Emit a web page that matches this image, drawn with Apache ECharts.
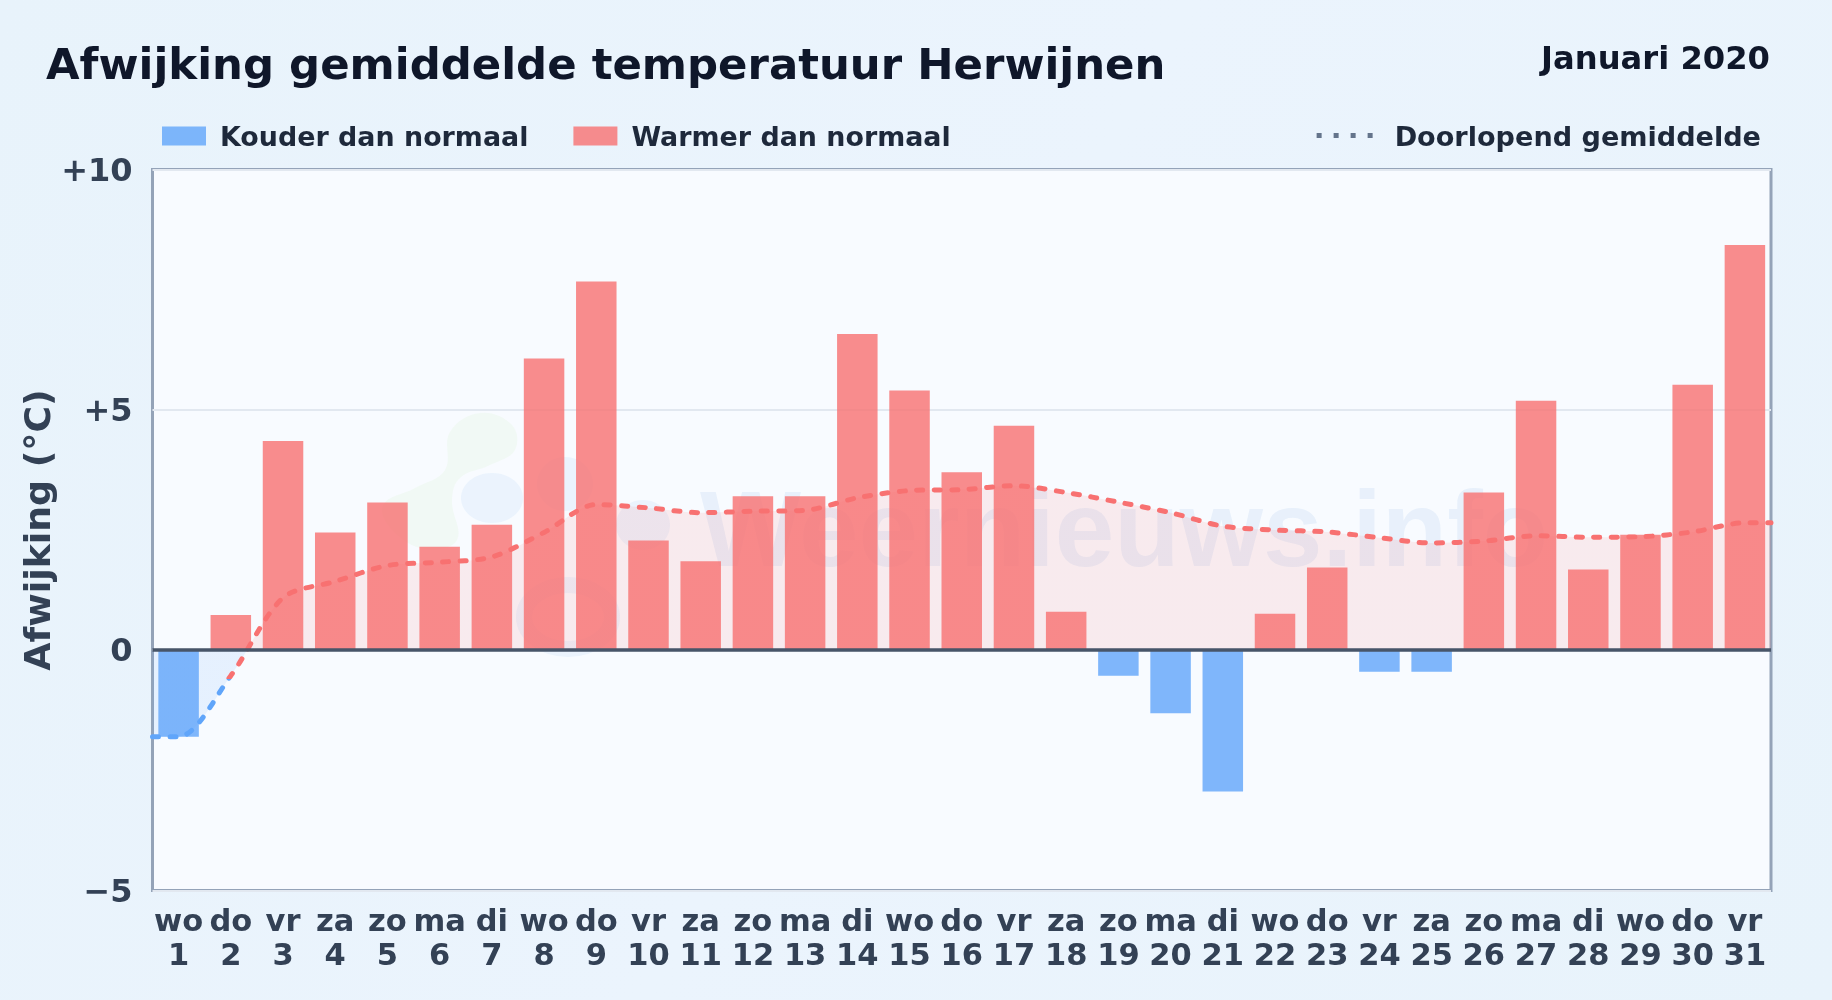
<!DOCTYPE html>
<html>
<head>
<meta charset="utf-8">
<style>html,body{margin:0;padding:0;background:#e9f3fb}#c{width:1832px;height:1000px}</style>
<script src="https://cdn.jsdelivr.net/npm/echarts@6/dist/echarts.min.js"></script>
</head>
<body>
<div id="c"></div>
<script>
const weekdays = ['wo','do','vr','za','zo','ma','di','wo','do','vr','za','zo','ma','di','wo','do','vr','za','zo','ma','di','wo','do','vr','za','zo','ma','di','wo','do','vr'];
const days = [1,2,3,4,5,6,7,8,9,10,11,12,13,14,15,16,17,18,19,20,21,22,23,24,25,26,27,28,29,30,31];
const deviation = [-1.8,0.73,4.35,2.45,3.07,2.15,2.61,6.07,7.67,2.28,1.85,3.2,3.2,6.58,5.4,3.7,4.67,0.8,-0.53,-1.31,-2.94,0.76,1.72,-0.45,-0.45,3.28,5.19,1.68,2.4,5.52,8.43];
const runningMean = [-1.8,-0.53,1.09,1.43,1.76,1.83,1.94,2.45,3.03,2.96,2.86,2.89,2.91,3.17,3.32,3.34,3.42,3.28,3.08,2.86,2.58,2.5,2.46,2.34,2.23,2.27,2.38,2.35,2.36,2.46,2.65];
const yTicks = {'10':'+10','5':'+5','0':'0','-5':'\u22125'};

const FONT = '"DejaVu Sans"';
const COLD = '#60a5fa', WARM = '#f87171';
const cold = deviation.map(v => v < 0 ? v : null);
const warm = deviation.map(v => v >= 0 ? v : null);
const lineData = [[0.5, runningMean[0]]]
  .concat(days.map((d, i) => [d, runningMean[i]]))
  .concat([[31.5, runningMean[runningMean.length - 1]]]);
// area fill changes colour exactly at zero
const maxMean = Math.max(...runningMean), minMean = Math.min(...runningMean);
const zeroStop = maxMean / (maxMean - minMean);

const chart = echarts.init(document.getElementById('c'), null, {renderer:'canvas'});
const blob = (cx, cy, rx, ry, fill) => ({type:'ellipse', z:1, silent:true, shape:{cx, cy, rx, ry}, style:{fill}});
const BLUE_WASH = 'rgba(147,197,240,0.13)';
const legendRich = (size, left) => ({t:{fontFamily:FONT,fontSize:size,fontWeight:'bold',color:'#1e293b',padding:[6,0,0,left]}});
chart.setOption({
  animation:false,
  backgroundColor:{type:'linear',x:0,y:0,x2:1,y2:1,colorStops:[{offset:0,color:'#e8f3fb'},{offset:0.5,color:'#ebf4fd'},{offset:1,color:'#e8f3fb'}]},
  textStyle:{fontFamily:FONT},
  title:[
    {text:'Afwijking gemiddelde temperatuur Herwijnen', left:41, top:41, textStyle:{fontFamily:FONT,fontSize:43.4,fontWeight:'bold',color:'#0f172a'}},
    {text:'Januari 2020', right:57, top:40, textStyle:{fontFamily:FONT,fontSize:32.2,fontWeight:'bold',color:'#0f172a'}}
  ],
  legend:[
    {data:[{name:'Kouder dan normaal',icon:'rect'},{name:'Warmer dan normaal',icon:'rect'}], left:157, top:120.5, itemWidth:44, itemHeight:19, itemGap:45,
      formatter:n=>'{t|'+n+'}', textStyle:{rich:legendRich(26.9,9)}},
    {data:[{name:'Doorlopend gemiddelde', icon:'path://M0 0h5v5H0zM17 0h5v5h-5zM34 0h5v5h-5zM51 0h5v5h-5z', itemStyle:{color:'#64748b'}}],
      right:66, top:120, itemWidth:56, itemHeight:5,
      formatter:n=>'{t|'+n+'}', textStyle:{rich:legendRich(27.1,17)}}
  ],
  grid:{left:152.5, top:169.5, width:1618.5, height:721, show:true, backgroundColor:'#f8fbff', borderColor:'#94a3b8', borderWidth:3},
  xAxis:[
    {type:'category', data:weekdays.map((w,i)=>w+'\n'+days[i]), position:'bottom',
      axisLine:{show:false,onZero:false}, axisTick:{show:false}, splitLine:{show:false},
      axisLabel:{interval:0, margin:16, color:'#334155', fontFamily:FONT, fontSize:30.5, fontWeight:'bold', lineHeight:34}},
    {type:'value', min:0.5, max:31.5, show:false}
  ],
  yAxis:{type:'value', min:-5, max:10, interval:5,
    axisLine:{show:false}, axisTick:{show:false},
    splitLine:{lineStyle:{color:'#e2e8f0',width:2}},
    axisLabel:{margin:20, formatter:v=>'{t|'+yTicks[String(v)]+'}',
      rich:{t:{color:'#334155', fontFamily:FONT, fontSize:32, fontWeight:'bold', padding:[6,0,0,0]}}},
    name:'Afwijking (\u00b0C)', nameLocation:'middle', nameRotate:90, nameGap:94, nameMoveOverlap:false,
    nameTextStyle:{color:'#334155', fontFamily:FONT, fontSize:36.3, fontWeight:'bold'}},
  visualMap:{show:false, type:'piecewise', seriesIndex:2, dimension:1,
    pieces:[{min:-5,max:-0.6,color:COLD},{min:-0.6,max:10,color:WARM}]},
  series:[
    {name:'Kouder dan normaal', type:'bar', data:cold, barWidth:40.5, barGap:'-100%', itemStyle:{color:COLD,opacity:0.8}, z:2},
    {name:'Warmer dan normaal', type:'bar', data:warm, barWidth:40.5, barGap:'-100%', itemStyle:{color:WARM,opacity:0.8}, z:2,
      markLine:{silent:true, symbol:'none', label:{show:false}, z:5, lineStyle:{color:'#475569',width:3.5,type:'solid'}, data:[{yAxis:0}]}},
    {name:'Doorlopend gemiddelde', type:'line', xAxisIndex:1, data:lineData, smooth:0.3, showSymbol:false, symbol:'none', z:4,
      lineStyle:{width:5, type:[6,11.5], cap:'round'},
      areaStyle:{opacity:0.12, color:{type:'linear',x:0,y:0,x2:0,y2:1,colorStops:[
        {offset:0,color:WARM},{offset:zeroStop,color:WARM},{offset:zeroStop,color:COLD},{offset:1,color:COLD}]}}}
  ],
  graphic:[
    {type:'polygon', z:1, silent:true, shape:{smooth:0.4, points:[[450,432],[480,413],[512,425],[515,450],[490,465],[460,478],[452,500],[457,540],[425,549],[392,530],[383,505],[415,488],[445,470]]},
      style:{fill:'rgba(200,235,170,0.12)'}},
    blob(492,498,31,25,BLUE_WASH),
    blob(565,484,28,27,BLUE_WASH),
    blob(643,525,27,25,BLUE_WASH),
    {type:'ellipse', z:1, silent:true, shape:{cx:568,cy:617,rx:44,ry:32}, style:{fill:'none',stroke:BLUE_WASH,lineWidth:16}},
    {type:'text', z:1, silent:true, style:{text:'Weernieuws.info', x:700, y:483,
      font:'bold 107px "Liberation Sans"', fill:'rgba(120,170,225,0.13)'}}
  ]
});
</script>
</body>
</html>
